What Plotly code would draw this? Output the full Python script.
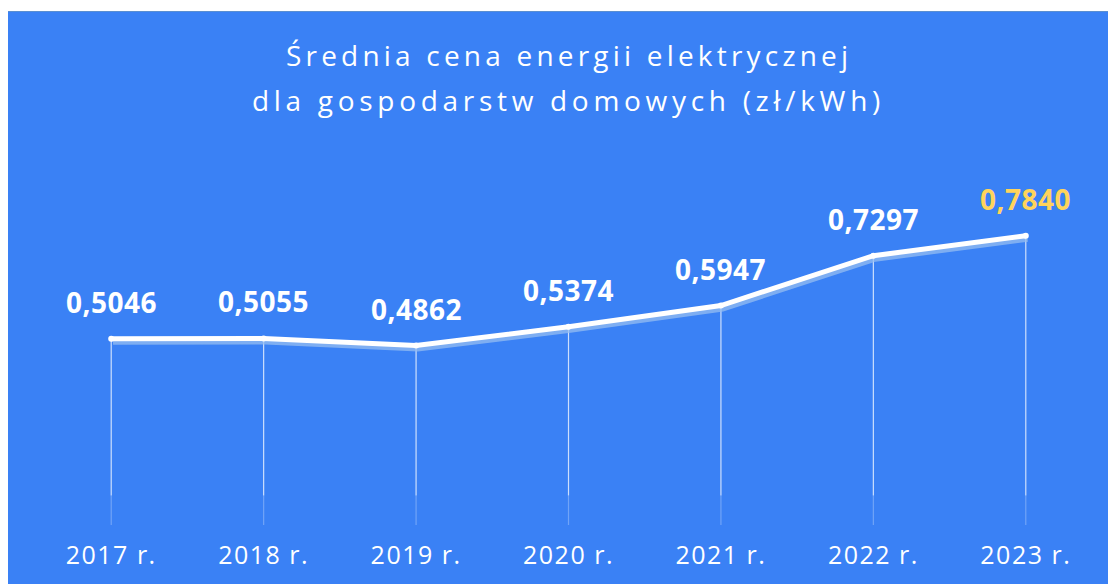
import plotly.graph_objects as go

years = ["2017 r.", "2018 r.", "2019 r.", "2020 r.", "2021 r.", "2022 r.", "2023 r."]
prices = [0.5046, 0.5055, 0.4862, 0.5374, 0.5947, 0.7297, 0.7840]
labels = ["0,5046", "0,5055", "0,4862", "0,5374", "0,5947", "0,7297", "0,7840"]
title_lines = ["Średnia cena energii elektrycznej", "dla gospodarstw domowych (zł/kWh)"]

BLUE = "#3A81F5"
YELLOW = "#FFD45C"
FONT = "Open Sans"

xs = list(range(len(years)))

# figure is drawn at (8, 8) in the page (default body margin)
W, H = 1108, 576
L, R, T, B = 27, 14, 148, 59
pw, ph = W - L - R, H - T - B


def px_to_paper_x(px):
    return (px - L) / pw


def px_to_paper_y(py):
    return (H - B - py) / ph


def spaced(text, sp):
    return '<span style="letter-spacing:%.1fpx">%s</span>' % (sp, text)


fig = go.Figure()

# drop lines (solid part then faded part)
dx, dy, fx, fy = [], [], [], []
for x, v in zip(xs, prices):
    dx += [x, x, None]
    dy += [v, 0.08, None]
    fx += [x, x, None]
    fy += [0.08, 0.0, None]
fig.add_trace(go.Scatter(x=dx, y=dy, mode="lines",
                         line=dict(color="rgba(255,255,255,0.75)", width=1.2),
                         hoverinfo="skip", showlegend=False))
fig.add_trace(go.Scatter(x=fx, y=fy, mode="lines",
                         line=dict(color="rgba(255,255,255,0.28)", width=1.2),
                         hoverinfo="skip", showlegend=False))

# shadow of the line
shadow_off = 3.5 / ph
fig.add_trace(go.Scatter(x=[x + 0.012 for x in xs], y=[v - shadow_off for v in prices], mode="lines",
                         line=dict(color="rgba(150,190,240,0.75)", width=5),
                         hoverinfo="skip", showlegend=False))

# main line
fig.add_trace(go.Scatter(x=xs, y=prices, mode="lines+markers",
                         line=dict(color="white", width=5),
                         marker=dict(color="white", size=6),
                         hoverinfo="skip", showlegend=False))

# value labels
for i, (x, v, t) in enumerate(zip(xs, prices, labels)):
    fig.add_annotation(x=x, y=v, text="<b>%s</b>" % spaced(t, 0.5), showarrow=False,
                       yshift=37, xanchor="center", yanchor="middle",
                       font=dict(family=FONT, size=28,
                                 color=YELLOW if i == len(xs) - 1 else "white"))

# title lines
for py, line, sp in zip([47, 92], title_lines, [4.2, 4.7]):
    fig.add_annotation(xref="paper", yref="paper", x=0.5, y=px_to_paper_y(py),
                       text=spaced(line, sp), showarrow=False, xanchor="center", yanchor="middle",
                       font=dict(family=FONT, size=28, color="white"))

# white strip at the top of the panel
fig.add_shape(type="rect", xref="paper", yref="paper", layer="below",
              x0=px_to_paper_x(-5), x1=px_to_paper_x(W + 5),
              y0=px_to_paper_y(3), y1=px_to_paper_y(-5),
              fillcolor="white", line=dict(width=0))
fig.add_shape(type="line", xref="paper", yref="paper", layer="below",
              x0=px_to_paper_x(-1), x1=px_to_paper_x(W + 5),
              y0=px_to_paper_y(3.5), y1=px_to_paper_y(3.5),
              line=dict(color="#5B8FD0", width=1))

fig.update_layout(
    width=W, height=H,
    margin=dict(l=L, r=R, t=T, b=B),
    paper_bgcolor=BLUE,
    plot_bgcolor="rgba(0,0,0,0)",
    xaxis=dict(range=[-0.5, len(xs) - 0.5], tickvals=xs,
               ticktext=[spaced(y, 1.5) for y in years],
               showgrid=False, zeroline=False, showline=False, ticks="",
               tickfont=dict(family=FONT, size=25, color="white"),
               ticklabelstandoff=13, fixedrange=True),
    yaxis=dict(range=[0, 1.0], visible=False, showgrid=False, zeroline=False,
               fixedrange=True),
)

fig.write_html("out.html")
